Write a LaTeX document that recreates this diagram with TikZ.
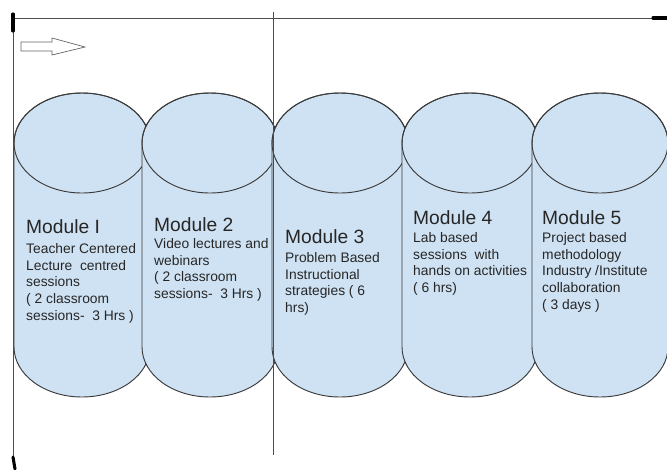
\documentclass[tikz,border=0pt]{standalone}
\usepackage{fontspec}
\setmainfont{Liberation Sans}
\usetikzlibrary{calc}
\definecolor{cylfill}{HTML}{CFE2F3}
\definecolor{cylline}{HTML}{3A3A3A}
\definecolor{txt}{HTML}{262626}
\tikzset{
  cyl/.style={fill=cylfill, draw=cylline, line width=0.8pt},
  cyltop/.style={draw=cylline, line width=0.8pt},
  head/.style={font=\fontsize{16.4}{19}\selectfont, text=txt, inner sep=0pt},
  body/.style={font=\fontsize{11.8}{14.3}\selectfont, text=txt, align=left, inner sep=0pt},
  rule/.style={draw=black!70, line width=0.8pt},
  tick/.style={line width=2.6pt, line cap=round}
}
\begin{document}
\begin{tikzpicture}[x=0.03cm, y=-0.03cm]
    		\useasboundingbox (0,0) rectangle (667,469);
    		%cilindros
    		\filldraw[cyl] (14,143) -- (14,347) arc[start angle=180, end angle=360, x radius=2.04cm, y radius=1.5cm] -- (150,143) arc[start angle=0, end angle=180, x radius=2.04cm, y radius=1.5cm] -- cycle;
    		\draw[cyltop] (82,143) ellipse [x radius=2.04cm, y radius=1.5cm];
    		\filldraw[cyl] (142,143) -- (142,347) arc[start angle=180, end angle=360, x radius=2.04cm, y radius=1.5cm] -- (278,143) arc[start angle=0, end angle=180, x radius=2.04cm, y radius=1.5cm] -- cycle;
    		\draw[cyltop] (210,143) ellipse [x radius=2.04cm, y radius=1.5cm];
    		\filldraw[cyl] (272,143) -- (272,347) arc[start angle=180, end angle=360, x radius=2.04cm, y radius=1.5cm] -- (408,143) arc[start angle=0, end angle=180, x radius=2.04cm, y radius=1.5cm] -- cycle;
    		\draw[cyltop] (340,143) ellipse [x radius=2.04cm, y radius=1.5cm];
    		\filldraw[cyl] (402,143) -- (402,347) arc[start angle=180, end angle=360, x radius=2.04cm, y radius=1.5cm] -- (538,143) arc[start angle=0, end angle=180, x radius=2.04cm, y radius=1.5cm] -- cycle;
    		\draw[cyltop] (470,143) ellipse [x radius=2.04cm, y radius=1.5cm];
    		\filldraw[cyl] (532,143) -- (532,347) arc[start angle=180, end angle=360, x radius=2.04cm, y radius=1.5cm] -- (668,143) arc[start angle=0, end angle=180, x radius=2.04cm, y radius=1.5cm] -- cycle;
    		\draw[cyltop] (600,143) ellipse [x radius=2.04cm, y radius=1.5cm];
  		%%%% LINEAS
  		\draw[rule] (13,13) -- (13,465);
  		\draw[rule] (13,18) -- (667,18);
  		\draw[rule] (273,12) -- (273,455);
  		\draw[tick] (13,14) -- (13,31);
  		\draw[tick] (653,18) -- (667,18);
  		\draw[tick] (13,457) -- (15,469);
  		%flecha
  		\draw[draw=black!60, fill=white, line width=0.6pt] (21,42) -- (52,42) -- (52,38) -- (85,47) -- (52,55) -- (52,51) -- (21,51) -- cycle;
  		%textos
  		\node[head, anchor=base west] at (26,233) (m1) {Module I};
  		\node[body, anchor=north west] at ($(m1.base west)+(0,10)$) (t1) {Teacher Centered\\Lecture~ centred\\sessions\\( 2 classroom\\sessions-~ 3 Hrs )};
  		\node[head, anchor=base west] at (154,231) (m2) {Module 2};
  		\node[body, anchor=north west] at ($(m2.base west)+(0,7)$) (t2) {Video lectures and\\webinars\\( 2 classroom\\sessions-~ 3 Hrs )};
  		\node[head, anchor=base west] at (285,243) (m3) {Module 3};
  		\node[body, anchor=north west] at ($(m3.base west)+(0,9)$) (t3) {Problem Based\\Instructional\\strategies ( 6\\hrs)};
  		\node[head, anchor=base west] at (413,224) (m4) {Module 4};
  		\node[body, anchor=north west] at ($(m4.base west)+(0,8)$) (t4) {Lab based\\sessions~ with\\hands on activities\\( 6 hrs)};
  		\node[head, anchor=base west] at (542,224) (m5) {Module 5};
  		\node[body, anchor=north west] at ($(m5.base west)+(0,8)$) (t5) {Project based\\methodology\\Industry /Institute\\collaboration\\( 3 days )};
\end{tikzpicture}
\end{document}
